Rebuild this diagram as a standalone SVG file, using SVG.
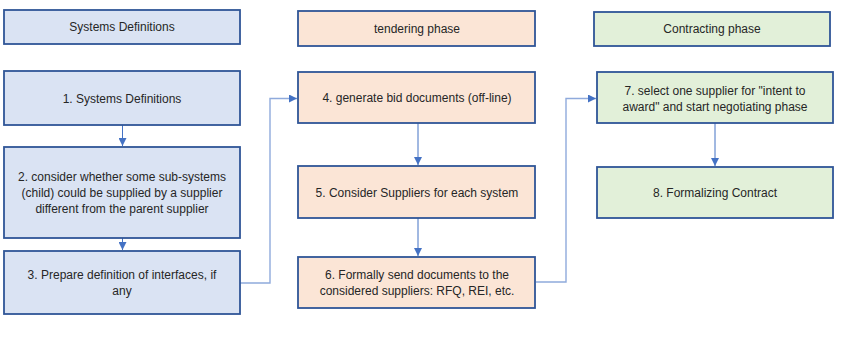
<svg xmlns="http://www.w3.org/2000/svg" width="852" height="341" viewBox="0 0 852 341">
<defs>
<marker id="arr" viewBox="0 0 10 10" refX="10" refY="5" markerWidth="8" markerHeight="8" markerUnits="userSpaceOnUse" orient="auto">
<path d="M0,0 L10,5 L0,10 z" fill="#4472C4"/>
</marker>
<style>
.blue{fill:#DAE3F3;stroke:#2F5597;stroke-width:1.8}
.orange{fill:#FBE5D6;stroke:#2F5597;stroke-width:1.8}
.green{fill:#E2F0D9;stroke:#2F5597;stroke-width:1.8}
text{font-family:"Liberation Sans",Arial,sans-serif;font-size:12px;fill:#262626;text-anchor:middle}
.conn{fill:none;stroke:#4472C4;stroke-width:1;marker-end:url(#arr)}
.conn2{fill:none;stroke:#8FAADC;stroke-width:1.4;marker-end:url(#arr)}
</style>
</defs>
<rect width="852" height="341" fill="#ffffff"/>
<g id="connectors">
<path class="conn" d="M122.5,125 V146"/>
<path class="conn" d="M122.5,238 V250"/>
<path class="conn2" d="M240,283 H270 V98.5 H297"/>
<path class="conn" d="M418,123 V165"/>
<path class="conn" d="M418,218 V256"/>
<path class="conn2" d="M536,282 H566 V98.5 H596"/>
<path class="conn" d="M715,123 V166"/>
</g>
<g id="h1"><rect class="blue" x="4" y="10" width="236" height="34"/><text x="122" y="31">Systems Definitions</text></g>
<g id="h2"><rect class="orange" x="298" y="11" width="237" height="35"/><text x="417" y="33">tendering phase</text></g>
<g id="h3"><rect class="green" x="594" y="12" width="236" height="34"/><text x="712" y="33">Contracting phase</text></g>
<g id="n1"><rect class="blue" x="4" y="71" width="236" height="54"/><text x="122" y="103">1. Systems Definitions</text></g>
<g id="n2"><rect class="blue" x="4" y="147" width="236" height="91"/><text x="122" y="181">2. consider whether some sub-systems</text><text x="122" y="197">(child) could be supplied by a supplier</text><text x="122" y="213">different from the parent supplier</text></g>
<g id="n3"><rect class="blue" x="4" y="251" width="236" height="63"/><text x="122" y="279">3. Prepare definition of interfaces, if</text><text x="122" y="295">any</text></g>
<g id="n4"><rect class="orange" x="298" y="72" width="237" height="51"/><text x="417" y="102">4. generate bid documents (off-line)</text></g>
<g id="n5"><rect class="orange" x="298" y="166" width="237" height="52"/><text x="417" y="197">5. Consider Suppliers for each system</text></g>
<g id="n6"><rect class="orange" x="298" y="257" width="237" height="51"/><text x="417" y="279">6. Formally send documents to the</text><text x="417" y="295">considered suppliers: RFQ, REI, etc.</text></g>
<g id="n7"><rect class="green" x="597" y="72" width="236" height="51"/><text x="715" y="95">7. select one supplier for "intent to</text><text x="715" y="111">award" and start negotiating phase</text></g>
<g id="n8"><rect class="green" x="597" y="167" width="236" height="51"/><text x="715" y="197">8. Formalizing Contract</text></g>
</svg>
